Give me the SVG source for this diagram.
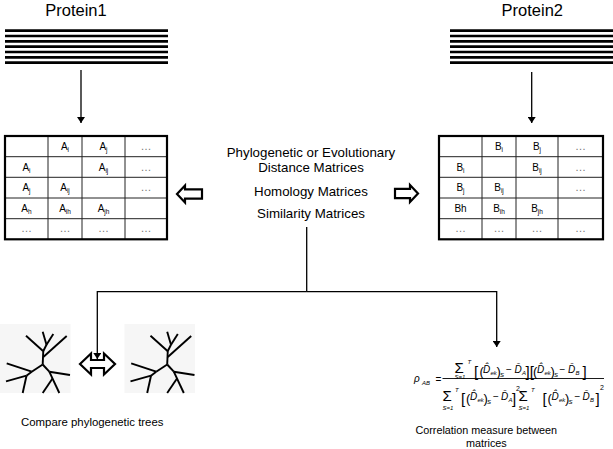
<svg xmlns="http://www.w3.org/2000/svg" xmlns:xlink="http://www.w3.org/1999/xlink" width="613" height="449" viewBox="0 0 613 449">
<style>
text{font-family:"Liberation Sans",Arial,sans-serif;fill:#000}
.title{font-size:16.5px}
.mid{font-size:13.3px;text-anchor:middle}
.cap{font-size:11.4px}
.cap2{font-size:10.8px;text-anchor:middle}
.c{font-size:10px;text-anchor:middle}
.s{font-size:6.5px}
.dots{font-size:11px;fill:#777;text-anchor:middle}
.bars line{stroke:#000;stroke-width:2.7}
.grid{stroke:#222;stroke-width:1;fill:none}
.frame{stroke:#000;stroke-width:2.2;fill:none}
.hollow{fill:#fff;stroke:#000;stroke-width:2.2;stroke-linejoin:miter}
.conn{stroke:#000;stroke-width:1.3;fill:none}
.f{font-size:10px;font-style:italic}
.fs{font-size:6px;font-style:italic}
.fb{font-size:15px;font-style:normal}
.fn{font-style:normal}
</style>
<defs>
<marker id="ah" markerWidth="6" markerHeight="8" refX="6" refY="4" orient="auto" markerUnits="userSpaceOnUse">
<path d="M0,0 L6,4 L0,8 Z" fill="#000"/>
</marker>
<g id="tree" stroke="#000" stroke-width="1.9">
<rect x="0" y="324" width="70.5" height="69" fill="#f6f6f6" stroke="none"/>
<line x1="26" y1="335.7" x2="43" y2="351"/>
<line x1="42.7" y1="331.7" x2="46.5" y2="344.7"/>
<line x1="53.3" y1="334" x2="46.5" y2="344.7"/>
<line x1="46.5" y1="344.7" x2="43.3" y2="351"/>
<line x1="43.3" y1="350" x2="42.7" y2="364.5"/>
<line x1="66.7" y1="336" x2="43.3" y2="357"/>
<line x1="42.7" y1="364.5" x2="31.7" y2="371.7"/>
<line x1="6.7" y1="363.3" x2="31.7" y2="371.7"/>
<line x1="31.7" y1="371.7" x2="26.5" y2="375.7"/>
<line x1="6" y1="381.3" x2="26.5" y2="375.7"/>
<line x1="26.5" y1="375.7" x2="22.7" y2="393"/>
<line x1="42.7" y1="364.5" x2="49.3" y2="371.7"/>
<line x1="49.3" y1="371.7" x2="70" y2="375"/>
<line x1="49.3" y1="371.7" x2="59.3" y2="393"/>
<line x1="52.5" y1="378.5" x2="42.7" y2="393"/>
</g>
</defs>
<rect width="613" height="449" fill="#fff"/>

<g id="protein1">
<text class="title" x="76" y="16" text-anchor="middle">Protein1</text>
<g class="bars">
<line x1="5" y1="30.7" x2="168" y2="30.7"/><line x1="5" y1="36" x2="168" y2="36"/><line x1="5" y1="41.3" x2="168" y2="41.3"/><line x1="5" y1="46.7" x2="168" y2="46.7"/><line x1="5" y1="52" x2="168" y2="52"/><line x1="5" y1="57.3" x2="168" y2="57.3"/><line x1="5" y1="62.7" x2="168" y2="62.7"/>
</g>
</g>

<g id="protein2">
<text class="title" x="532.3" y="16" text-anchor="middle">Protein2</text>
<g class="bars">
<line x1="450" y1="30.7" x2="613" y2="30.7"/><line x1="450" y1="36" x2="613" y2="36"/><line x1="450" y1="41.3" x2="613" y2="41.3"/><line x1="450" y1="46.7" x2="613" y2="46.7"/><line x1="450" y1="52" x2="613" y2="52"/><line x1="450" y1="57.3" x2="613" y2="57.3"/><line x1="450" y1="62.7" x2="613" y2="62.7"/>
</g>
</g>

<g id="matrixA">
<path class="grid" d="M5,156.7H167M5,177.3H167M5,198H167M5,218.7H167M48,136V239.3M82,136V239.3M125,136V239.3"/>
<rect class="frame" x="5" y="136" width="162" height="103.3"/>
<text class="c" x="65" y="150">A<tspan class="s" dy="2">i</tspan></text>
<text class="c" x="103.5" y="150">A<tspan class="s" dy="2">j</tspan></text>
<text class="dots" x="146" y="150">…</text>
<text class="c" x="26.5" y="170.5">A<tspan class="s" dy="2">i</tspan></text>
<text class="c" x="103.5" y="170.5">A<tspan class="s" dy="2">ij</tspan></text>
<text class="dots" x="146" y="170.5">…</text>
<text class="c" x="26.5" y="191">A<tspan class="s" dy="2">j</tspan></text>
<text class="c" x="65" y="191">A<tspan class="s" dy="2">ij</tspan></text>
<text class="dots" x="146" y="191">…</text>
<text class="c" x="26.5" y="211.5">A<tspan class="s" dy="2">h</tspan></text>
<text class="c" x="65" y="211.5">A<tspan class="s" dy="2">ih</tspan></text>
<text class="c" x="103.5" y="211.5">A<tspan class="s" dy="2">jh</tspan></text>
<text class="dots" x="26.5" y="232">…</text>
<text class="dots" x="65" y="232">…</text>
<text class="dots" x="103.5" y="232">…</text>
<text class="dots" x="146" y="232">…</text>
</g>

<g id="matrixB">
<path class="grid" d="M439,156.7H603M439,177.3H603M439,198H603M439,218.7H603M482,136V239.3M516,136V239.3M558,136V239.3"/>
<rect class="frame" x="439" y="136" width="164" height="103.3"/>
<text class="c" x="499" y="150">B<tspan class="s" dy="2">i</tspan></text>
<text class="c" x="537" y="150">B<tspan class="s" dy="2">j</tspan></text>
<text class="dots" x="580.5" y="150">…</text>
<text class="c" x="460.5" y="170.5">B<tspan class="s" dy="2">i</tspan></text>
<text class="c" x="537" y="170.5">B<tspan class="s" dy="2">ij</tspan></text>
<text class="dots" x="580.5" y="170.5">…</text>
<text class="c" x="460.5" y="191">B<tspan class="s" dy="2">j</tspan></text>
<text class="c" x="499" y="191">B<tspan class="s" dy="2">ij</tspan></text>
<text class="dots" x="580.5" y="191">…</text>
<text class="c" x="460.5" y="211.5">Bh</text>
<text class="c" x="499" y="211.5">B<tspan class="s" dy="2">ih</tspan></text>
<text class="c" x="537" y="211.5">B<tspan class="s" dy="2">jh</tspan></text>
<text class="dots" x="460.5" y="232">…</text>
<text class="dots" x="499" y="232">…</text>
<text class="dots" x="537" y="232">…</text>
<text class="dots" x="580.5" y="232">…</text>
</g>

<g id="labels">
<text class="mid" x="311" y="157">Phylogenetic or Evolutionary</text>
<text class="mid" x="311" y="172.3">Distance Matrices</text>
<text class="mid" x="311" y="196">Homology Matrices</text>
<text class="mid" x="311" y="218.3">Similarity Matrices</text>
</g>

<g id="arrowLeft"><path class="hollow" d="M177,194 L185,185.5 L185,189.3 L202,189.3 L202,198.7 L185,198.7 L185,202.5 Z"/></g>
<g id="arrowRight"><path class="hollow" d="M418,193.5 L410,185 L410,188.8 L395,188.8 L395,198.2 L410,198.2 L410,202 Z"/></g>

<g id="tree1"><use xlink:href="#tree"/></g>
<g id="tree2"><use xlink:href="#tree" transform="translate(124.5,0)"/></g>
<g id="doubleArrow"><path class="hollow" d="M80,364 L91,353.5 L91,360 L104,360 L104,353.5 L115,364 L104,374.5 L104,368 L91,368 L91,374.5 Z"/></g>
<g id="caption1"><text class="cap" x="21" y="426">Compare phylogenetic trees</text></g>

<g id="formula">
<text class="f" x="414" y="382" font-size="12">ρ</text>
<text class="fs" x="422" y="384.5">AB</text>
<text class="f fn" x="435.5" y="382.5">=</text>
<line x1="442.5" y1="378.5" x2="604" y2="378.5" stroke="#000" stroke-width="0.9"/>
<text class="f"><tspan class="fb" x="454.5" y="373">Σ</tspan><tspan class="fs" x="467.5" y="364">T</tspan><tspan class="fs" x="454.5" y="378.5" font-size="5.5">S=1</tspan><tspan class="fn" font-size="15" x="474" y="376.5">[</tspan><tspan class="fn" font-size="13" x="479.5" y="375.5">(</tspan><tspan x="483" y="372.5">D̂</tspan><tspan class="fs" x="490.5" y="374.5">ek</tspan><tspan class="fn" font-size="13" x="496.5" y="375.5">)</tspan><tspan class="fs" x="500" y="377">S</tspan><tspan class="fn" x="506" y="372.5">−</tspan><tspan x="514.5" y="372.5">D̄</tspan><tspan class="fs" x="522" y="374.5">A</tspan><tspan class="fn" font-size="15" x="525.5" y="376.5">][</tspan><tspan class="fn" font-size="13" x="533" y="375.5">(</tspan><tspan x="537" y="372.5">D̂</tspan><tspan class="fs" x="544.5" y="374.5">ek</tspan><tspan class="fn" font-size="13" x="550.5" y="375.5">)</tspan><tspan class="fs" x="554" y="377">S</tspan><tspan class="fn" x="559.5" y="372.5">−</tspan><tspan x="568" y="372.5">D̄</tspan><tspan class="fs" x="575.5" y="374.5">B</tspan><tspan class="fn" font-size="15" x="582.5" y="376.5">]</tspan></text>
<text class="f"><tspan class="fb" x="442.5" y="401">Σ</tspan><tspan class="fs" x="455" y="392">T</tspan><tspan class="fs" x="442.5" y="409.5" font-size="5.5">S=1</tspan><tspan class="fn" font-size="15" x="461" y="403.5">[</tspan><tspan class="fn" font-size="13" x="466" y="402.5">(</tspan><tspan x="470" y="399.5">D̂</tspan><tspan class="fs" x="477.5" y="401.5">ek</tspan><tspan class="fn" font-size="13" x="483.5" y="402.5">)</tspan><tspan class="fs" x="487" y="404">S</tspan><tspan class="fn" x="493" y="399.5">−</tspan><tspan x="501" y="399.5">D̄</tspan><tspan class="fs" x="508.5" y="401.5">A</tspan><tspan class="fn" font-size="15" x="512" y="403.5">]</tspan><tspan class="fn" font-size="7" x="516" y="391">2</tspan><tspan class="fb" x="518.5" y="401">Σ</tspan><tspan class="fs" x="531" y="392">T</tspan><tspan class="fs" x="518.5" y="409.5" font-size="5.5">S=1</tspan><tspan class="fn" font-size="15" x="542.5" y="403.5">[</tspan><tspan class="fn" font-size="13" x="547.5" y="402.5">(</tspan><tspan x="551.5" y="399.5">D̂</tspan><tspan class="fs" x="559" y="401.5">ek</tspan><tspan class="fn" font-size="13" x="565" y="402.5">)</tspan><tspan class="fs" x="568.5" y="404">S</tspan><tspan class="fn" x="574.5" y="399.5">−</tspan><tspan x="582.5" y="399.5">D̄</tspan><tspan class="fs" x="590" y="401.5">B</tspan><tspan class="fn" font-size="15" x="595.5" y="403.5">]</tspan><tspan class="fn" font-size="7" x="600" y="390">2</tspan></text>
</g>
<g id="caption2">
<text class="cap2" x="486.3" y="434">Correlation measure between</text>
<text class="cap2" x="486.3" y="447">matrices</text>
</g>

<g id="connectors">
<line class="conn" x1="81" y1="70" x2="81" y2="123" marker-end="url(#ah)"/>
<line class="conn" x1="531.7" y1="72" x2="531.7" y2="123" marker-end="url(#ah)"/>
<line class="conn" x1="306.7" y1="227" x2="306.7" y2="291.7"/>
<path class="conn" d="M306.7,291.7 H97.3 V359" marker-end="url(#ah)"/>
<path class="conn" d="M306.7,291.7 H496.7 V347" marker-end="url(#ah)"/>
</g>
</svg>
